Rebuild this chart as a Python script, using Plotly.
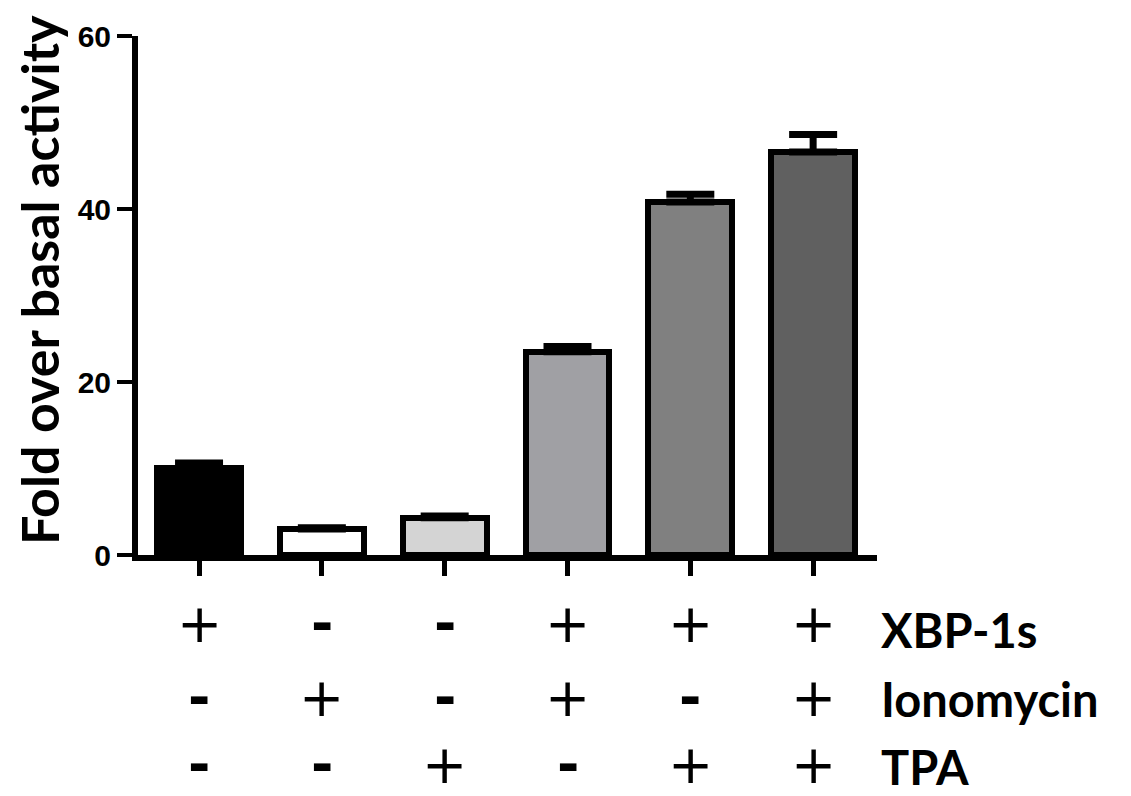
import plotly.graph_objects as go

categories = ["1", "2", "3", "4", "5", "6"]
values = [10.1, 3.0, 4.3, 23.5, 40.8, 46.6]
errors = [0.55, 0.15, 0.2, 0.6, 0.9, 2.0]
colors = ["#000000", "#ffffff", "#d4d4d4", "#a0a0a4", "#808080", "#606060"]
row_labels = ["XBP-1s", "Ionomycin", "TPA"]
xbp = ["+", "-", "-", "+", "+", "+"]
iono = ["-", "+", "-", "+", "-", "+"]
tpa = ["-", "-", "+", "-", "+", "+"]
y_ticks = [0, 20, 40, 60]
y_title = "Fold over basal activity"

xs = list(range(len(categories)))

W, H = 1131, 796
L, T, B, R = 138, 36, 241, 254
plot_h = H - T - B

def py(ypix):
    return (H - B - ypix) / plot_h

fig = go.Figure()
fig.add_trace(go.Bar(
    x=xs, y=values, width=0.683,
    marker=dict(color=colors, line=dict(color="black", width=6)),
    error_y=dict(type="data", array=errors, arrayminus=[0]*len(errors),
                 symmetric=False, color="black", thickness=7, width=24),
    showlegend=False,
))

rows = [xbp, iono, tpa]
sym_y = [623, 697, 764]
lab_y = [630, 699, 767]
for r, yv, ly, lab in zip(rows, sym_y, lab_y, row_labels):
    for i, s in enumerate(r):
        fig.add_annotation(x=xs[i], y=py(yv), xref="x", yref="paper", text=s,
                           showarrow=False, xanchor="center", yanchor="middle",
                           font=dict(family="DejaVu Sans", size=54, color="black",
                                     weight="bold" if s == "-" else "normal"))
    fig.add_annotation(x=(879 - L) / (W - L - R), y=py(ly), xref="paper", yref="paper",
                       text=lab, showarrow=False, xanchor="left", yanchor="middle",
                       font=dict(family="Lato", size=47, color="black", weight="bold"))

fig.add_annotation(x=(39 - L) / (W - L - R), y=py(280), xref="paper", yref="paper",
                   text=y_title, textangle=-90, showarrow=False,
                   xanchor="center", yanchor="middle",
                   font=dict(family="Lato", size=52, color="black", weight="bold"))

fig.update_layout(
    width=W, height=H,
    margin=dict(l=L, r=R, t=T, b=B),
    plot_bgcolor="white", paper_bgcolor="white",
    bargap=0,
)
fig.update_xaxes(range=[-0.497, 5.52], tickvals=xs, ticktext=[""]*6,
                 showline=True, linecolor="black", linewidth=6,
                 ticks="outside", ticklen=15, tickwidth=5, tickcolor="black",
                 showgrid=False, zeroline=False)
fig.update_yaxes(range=[0, 60], tickvals=y_ticks,
                 showline=True, linecolor="black", linewidth=6,
                 ticks="outside", ticklen=15, tickwidth=4, tickcolor="black",
                 tickfont=dict(family="Liberation Sans", size=30, color="black", weight="bold"),
                 showgrid=False, zeroline=False)

fig.write_html("out.html", config={"displayModeBar": False},
               post_script="document.body.style.margin='0';")
